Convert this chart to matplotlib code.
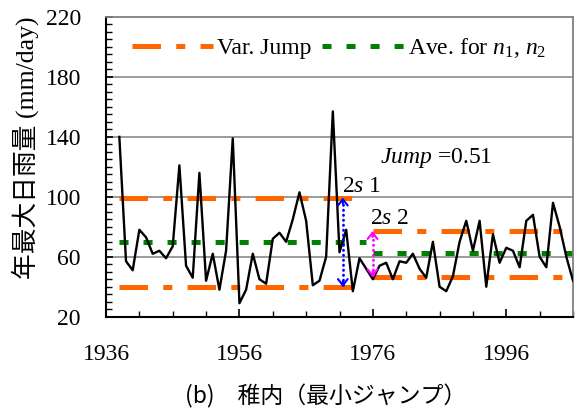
import matplotlib
matplotlib.use("Agg")
import matplotlib.pyplot as plt
from matplotlib.lines import Line2D
from matplotlib.ticker import FixedLocator
import numpy as np

plt.rcParams['font.family'] = ['Liberation Serif', 'Noto Sans CJK JP']
plt.rcParams['mathtext.fontset'] = 'custom'
plt.rcParams['mathtext.rm'] = 'Liberation Serif'
plt.rcParams['mathtext.it'] = 'Liberation Serif:italic'
plt.rcParams['lines.scale_dashes'] = False

# ---------------- data ----------------
years = list(range(1938, 2007))
rain = [140, 57, 51, 78, 73, 62, 64, 59, 67, 121,
        54, 46, 116, 44, 62, 38, 64, 139, 29, 38,
        62, 45, 42, 72, 76, 70, 85, 103, 84, 41,
        44, 60, 157, 63, 78, 37, 59, 52, 45, 54,
        56, 45, 57, 56, 62, 52, 46, 70, 40, 37,
        47, 70, 84, 64, 84, 40, 75, 56, 66, 64,
        53, 84, 88, 60, 53, 96, 80, 60, 44]

period1 = [1938, 1975]
period2 = [1976, 2006]
mean1, upper1, lower1 = 70.0, 99.5, 39.8
mean2, upper2, lower2 = 62.2, 77.2, 46.3

x_ticks = [1936, 1956, 1976, 1996]
x_ticklabels = ['1936', '1956', '1976', '1996']
y_ticks = [20, 60, 100, 140, 180, 220]
grid_levels = [60, 100, 140, 180]

legend_labels = ['Var. Jump', r'Ave. for $n_{1}$, $n_{2}$']
jump_text = r'$Jump$ =0.51'
title_text = '(b)\u3000稚内（最小ジャンプ）'
ylabel_text = '年最大日雨量 (mm/day)'

# ---------------- figure ----------------
W, H = 577, 412
fig = plt.figure(figsize=(W / 100, H / 100), dpi=100)
ax = fig.add_axes([106 / W, (H - 316.7) / H, (573 - 106) / W, (316.7 - 17) / H])

orange = '#FF6600'
green = '#008000'
odash = (0, (20.5, 11.0, 6.5, 11.0))
gdash = (0, (6.5, 10.8))
lw_h = 3.6

for lvl in grid_levels:
    ax.axhline(lvl, color='#808080', lw=1.1, zorder=1)

# variance-jump lines
for (a, b), (u, l) in zip([period1, period2], [(upper1, lower1), (upper2, lower2)]):
    ax.plot([a, b], [u, u], color=orange, lw=lw_h, linestyle=odash,
            dash_capstyle='butt', zorder=2)
    ax.plot([a, b], [l, l], color=orange, lw=lw_h, linestyle=odash,
            dash_capstyle='butt', zorder=2)
# averages
for (a, b), m in zip([period1, period2], [mean1, mean2]):
    ax.plot([a, b], [m, m], color=green, lw=lw_h, linestyle=gdash,
            dash_capstyle='butt', zorder=2)

ax.plot(years, rain, color='black', lw=1.7, zorder=3)

# double arrows
def dbl_arrow(x, lo, hi, color):
    ax.plot([x, x], [lo + 1.5, hi - 1.5], color=color, lw=2.0,
            linestyle=(0, (0.3, 3.3)), dash_capstyle='round', zorder=4)
    for tip, tail in [(hi, hi - 4), (lo, lo + 4)]:
        ax.annotate('', xy=(x, tip), xytext=(x, tail),
                    arrowprops=dict(arrowstyle='->,head_length=0.45,head_width=0.35',
                                    color=color, lw=1.5, shrinkA=0, shrinkB=0),
                    zorder=4)

dbl_arrow(1971.5, lower1, upper1, '#0000FF')
dbl_arrow(1975.95, lower2, upper2, '#FF00FF')

ax.text(1977.1, 122.5, jump_text, fontsize=17, va='baseline', ha='left')
ax.text(1971.4, 103.0, r'2$s$ 1', fontsize=17, va='baseline', ha='left')
ax.text(1975.6, 81.8, r'2$s$ 2', fontsize=17, va='baseline', ha='left')

ax.set_xlim(1936, 2006)
ax.set_ylim(20, 220)
ax.xaxis.set_major_locator(FixedLocator(x_ticks))
ax.set_xticklabels(x_ticklabels)
ax.xaxis.set_minor_locator(FixedLocator(np.arange(1936, 2007, 5)))
ax.yaxis.set_major_locator(FixedLocator(y_ticks))
ax.yaxis.set_minor_locator(FixedLocator(np.arange(20, 221, 5)))
ax.tick_params(axis='both', which='both', direction='in', labelsize=17)
ax.tick_params(axis='x', which='major', length=6, width=1.2, pad=20)
ax.tick_params(axis='x', which='minor', length=4, width=1.0)
ax.tick_params(axis='y', which='major', length=5, width=1.2, pad=18)
ax.tick_params(axis='y', which='minor', length=4, width=1.0)
ax.tick_params(top=False, right=False, which='both')

for s in ['left', 'bottom']:
    ax.spines[s].set_color('black')
    ax.spines[s].set_linewidth(1.5)
for s in ['top', 'right']:
    ax.spines[s].set_color('#808080')
    ax.spines[s].set_linewidth(1.3)

handles = [Line2D([], [], color=orange, lw=lw_h, linestyle=odash, dash_capstyle='butt'),
           Line2D([], [], color=green, lw=lw_h, linestyle=gdash, dash_capstyle='butt')]
ax.legend(handles, legend_labels, loc='center left', bbox_to_anchor=(0.055, 0.8966),
          ncol=2, frameon=False, fontsize=17, handlelength=3.45, handletextpad=0.18,
          columnspacing=0.45, borderpad=0, borderaxespad=0)

fig.text(25 / W, (H - 148) / H, ylabel_text, rotation=90, ha='center', va='center',
         fontsize=18.5, family=['Liberation Serif', 'Noto Sans CJK JP'])
fig.text(325.8 / W, (H - 396) / H, title_text, ha='center', va='center',
         fontsize=16.5, family=['Noto Sans CJK JP'])

fig.savefig('out.png', dpi=100)
